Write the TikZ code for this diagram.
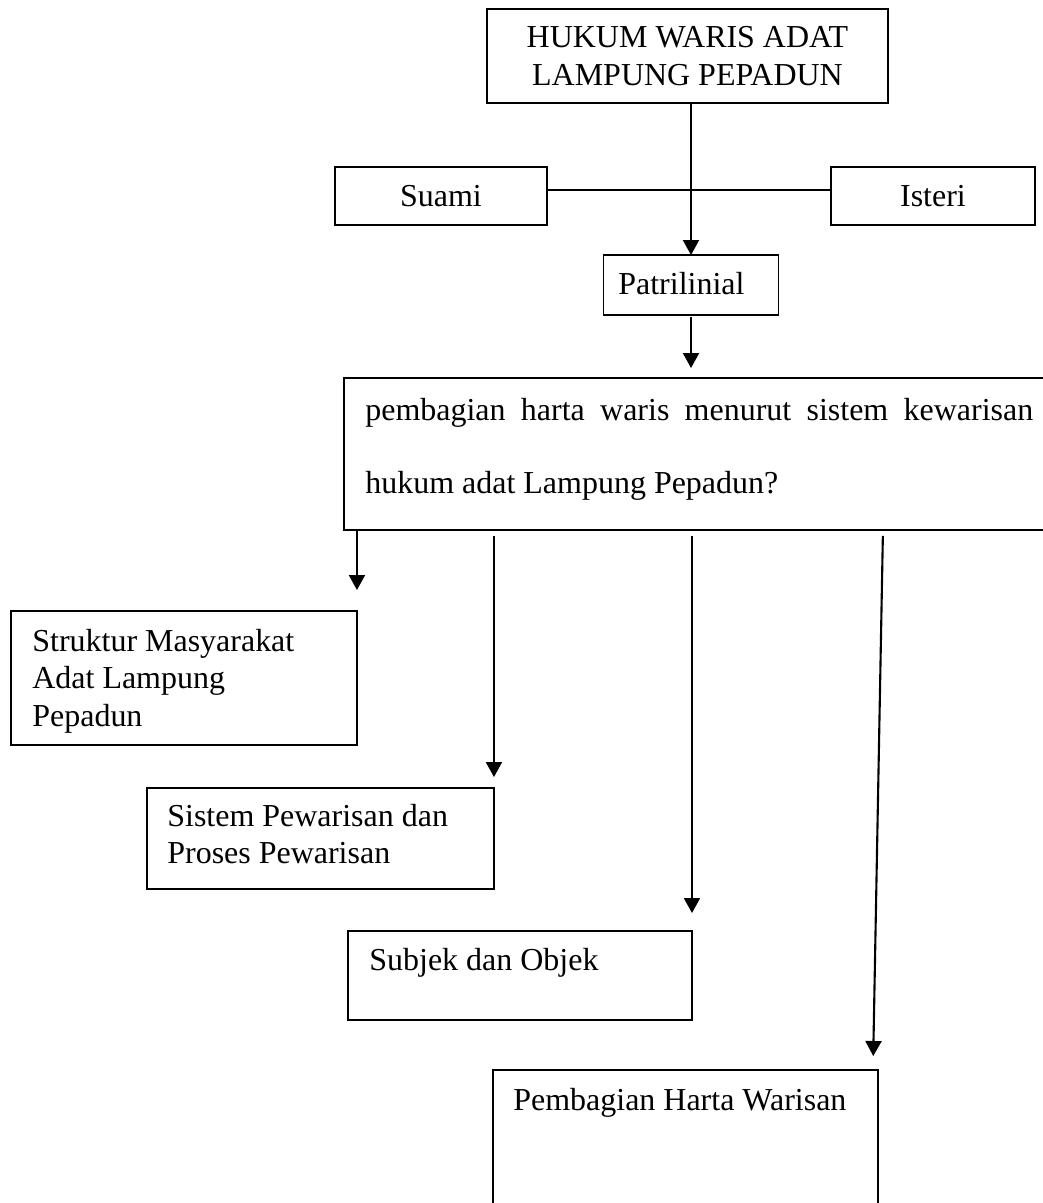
\documentclass[tikz,border=0pt]{standalone}
\usepackage{fontspec}
\setmainfont{Liberation Serif}
\usetikzlibrary{arrows.meta}

\begin{document}
\begin{tikzpicture}[x=0.02cm, y=-0.02cm,
    box/.style={draw, line width=0.9pt, inner sep=0pt, outer sep=0pt, align=center,
      font=\fontsize{18.2pt}{21.6pt}\selectfont},
    txt/.style={anchor=north west, inner sep=0pt, align=left,
      font=\fontsize{18.2pt}{21.3pt}\selectfont},
    arr/.style={-{Triangle[length=0.3cm,width=0.32cm]}, line width=1.2pt}]
  \useasboundingbox (0,0) rectangle (1043,1203);
  \clip (0,0) rectangle (1043,1203);

  \node[box, minimum width=8.02cm, minimum height=1.88cm] (hukum) at (687.5,56) {HUKUM WARIS ADAT\\LAMPUNG PEPADUN};
  \node[box, minimum width=4.24cm, minimum height=1.16cm] (suami) at (441,196) {Suami};
  \node[box, minimum width=4.08cm, minimum height=1.16cm] (isteri) at (933,196) {Isteri};
  \node[box, minimum width=3.5cm, minimum height=1.2cm] (patri) at (691,285) {};
  \node[txt] (patritxt) at (618,272) {Patrilinial};

  \node[box, minimum width=14.32cm, minimum height=3.04cm] (pokok) at (702,454) {};
  \node[txt, text width=13.36cm, align=justify, font=\fontsize{18.2pt}{41.5pt}\selectfont] (pokoktxt) at (365,398)
    {pembagian harta waris menurut sistem kewarisan\linebreak hukum adat Lampung Pepadun?};

  \node[box, minimum width=6.92cm, minimum height=2.68cm] (struktur) at (184,678) {};
  \node[txt] (strukturtxt) at (32,629) {Struktur Masyarakat\\Adat Lampung\\Pepadun};
  \node[box, minimum width=6.94cm, minimum height=2.02cm] (sistem) at (320.5,838.5) {};
  \node[txt, font=\fontsize{18.2pt}{21pt}\selectfont] (sistemtxt) at (167,804) {Sistem Pewarisan dan\\Proses Pewarisan};
  \node[box, minimum width=6.88cm, minimum height=1.78cm] (subjek) at (520,975.5) {};
  \node[txt] (subjektxt) at (369,948) {Subjek dan Objek};
  \node[box, minimum width=7.7cm, minimum height=3.2cm] (pembagian) at (685.5,1150) {};
  \node[txt] (pembagiantxt) at (513,1088) {Pembagian Harta Warisan};

  \draw[line width=1.2pt] ([yshift=0.12cm]suami.east) -- ([yshift=0.12cm]isteri.west);
  \draw[arr] (hukum.south -| patri.north) -- (patri.north);
  \draw[arr, shorten <=0.04cm, shorten >=0.2cm] (patri.south) -- (patri.south |- pokok.north);
  \draw[arr, shorten >=0.42cm] (pokok.south -| struktur.north east) -- (struktur.north east);
  \draw[arr, shorten <=0.12cm, shorten >=0.22cm] (pokok.south -| sistem.north east) -- (sistem.north east);
  \draw[arr, shorten <=0.12cm, shorten >=0.36cm] (pokok.south -| subjek.north east) -- (subjek.north east);
  \draw[arr, shorten <=0.12cm, shorten >=0.28cm] ([xshift=0.1cm]pokok.south -| pembagian.north east) -- ([xshift=-0.1cm]pembagian.north east);
\end{tikzpicture}
\end{document}
